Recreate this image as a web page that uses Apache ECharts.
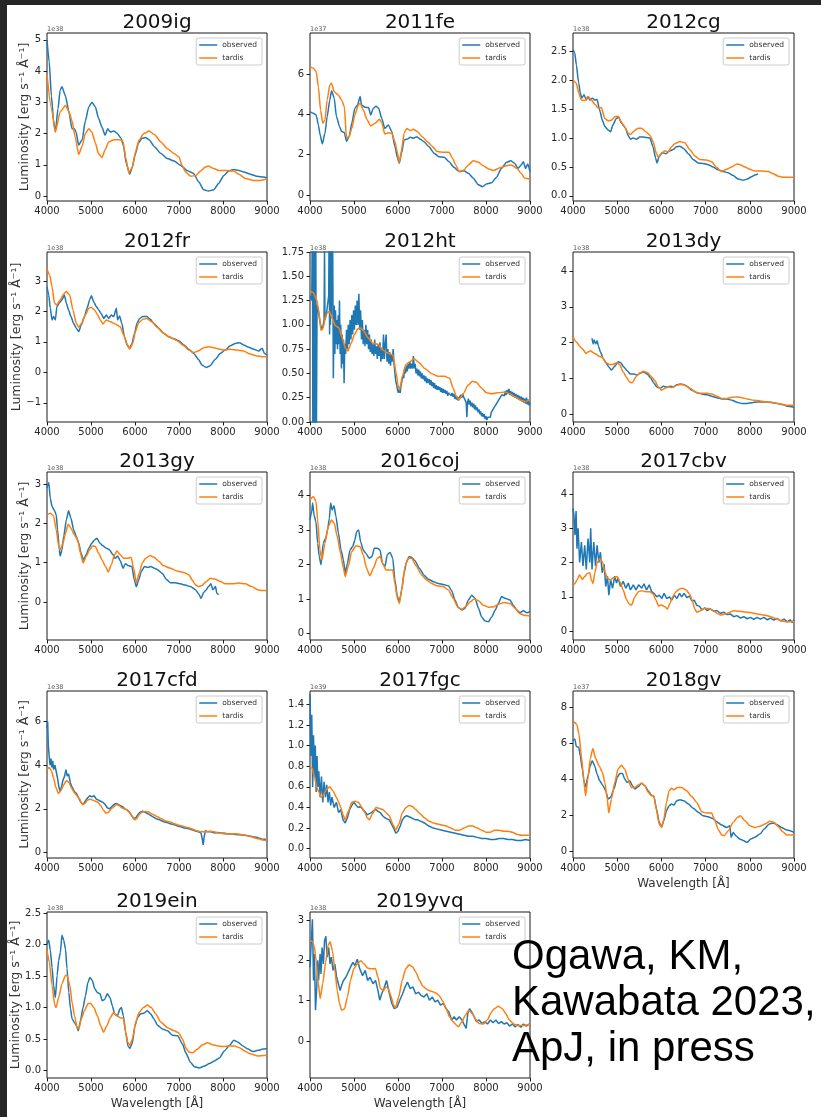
<!DOCTYPE html>
<html>
<head>
<meta charset="utf-8">
<title>Type Ia supernova spectra: observed vs TARDIS</title>
<style>
  html, body { margin: 0; padding: 0; background: #fff; }
  #page { position: relative; width: 821px; height: 1117px; background: #fff; overflow: hidden; }
  #chart { position: absolute; left: 0; top: 0; width: 821px; height: 1117px; }
  .edge-top { position: absolute; left: 0; top: 0; width: 821px; height: 5px; background: #262626; }
  .edge-left { position: absolute; left: 0; top: 0; width: 7px; height: 1117px; background: #262626; }
</style>
<script src="https://cdn.jsdelivr.net/npm/echarts@6/dist/echarts.min.js"></script>
</head>
<body>
<div id="page">
  <div id="chart"></div>
  <div class="edge-top"></div>
  <div class="edge-left"></div>
</div>
<script>
// ---- spectra: [wavelength (Angstrom), luminosity in units of the panel's scale] ----

const obs2009ig = [[4000,5.0],[4050,4.3],[4100,3.2],[4150,2.4],[4190,2.05],[4250,2.8],[4300,3.4],[4340,3.5],[4420,3.2],[4490,2.75],[4570,2.15],[4620,2.15],[4660,2.05],[4720,1.63],[4800,1.8],[4870,2.4],[4950,2.85],[5020,3.0],[5100,2.85],[5170,2.5],[5250,2.2],[5320,1.95],[5380,2.15],[5440,2.05],[5520,2.08],[5600,2.0],[5680,1.85],[5740,1.6],[5800,1.05],[5880,0.7],[5930,0.88],[6010,1.35],[6080,1.7],[6160,1.85],[6240,1.87],[6320,1.8],[6440,1.58],[6590,1.36],[6730,1.2],[6890,1.12],[7040,0.98],[7180,0.82],[7330,0.72],[7450,0.45],[7560,0.2],[7670,0.16],[7790,0.2],[7900,0.4],[8020,0.66],[8130,0.8],[8240,0.85],[8360,0.82],[8470,0.77],[8620,0.7],[8770,0.63],[8920,0.61],[9000,0.58]];
const tardis2009ig = [[4000,3.9],[4100,2.8],[4190,2.05],[4300,2.7],[4420,2.9],[4500,2.7],[4570,2.4],[4640,1.9],[4720,1.33],[4800,1.6],[4870,2.0],[4950,2.15],[5020,2.05],[5100,1.7],[5170,1.36],[5250,1.23],[5320,1.47],[5400,1.73],[5520,1.8],[5640,1.8],[5720,1.78],[5800,1.15],[5860,0.74],[5940,0.93],[6010,1.41],[6090,1.79],[6200,2.0],[6320,2.08],[6440,1.97],[6590,1.73],[6730,1.52],[6890,1.36],[7000,1.25],[7070,0.98],[7150,0.77],[7270,0.63],[7380,0.66],[7490,0.8],[7600,0.93],[7670,0.96],[7790,0.88],[7900,0.82],[8090,0.82],[8240,0.8],[8360,0.7],[8510,0.56],[8700,0.5],[8850,0.5],[9000,0.55]];

const obs2011fe = [[4000,4.13],[4075,4.05],[4140,3.97],[4190,3.47],[4230,2.98],[4280,2.53],[4340,3.06],[4390,3.88],[4450,4.71],[4490,5.17],[4550,4.8],[4600,3.9],[4670,3.4],[4720,3.14],[4780,3.1],[4830,2.65],[4890,2.9],[4950,3.55],[5020,4.3],[5080,4.46],[5140,4.88],[5170,4.46],[5250,4.35],[5330,4.33],[5380,3.97],[5440,4.3],[5500,4.4],[5560,4.3],[5630,3.8],[5700,3.3],[5780,3.47],[5860,3.14],[5930,2.4],[5990,1.82],[6030,1.57],[6080,2.07],[6140,2.73],[6200,2.76],[6280,2.86],[6350,2.81],[6430,2.89],[6510,2.76],[6590,2.64],[6700,2.4],[6820,2.07],[6930,1.9],[7050,1.87],[7160,1.65],[7270,1.37],[7390,1.16],[7500,1.2],[7600,1.07],[7710,0.83],[7830,0.5],[7920,0.41],[8020,0.55],[8130,0.61],[8240,0.88],[8350,1.32],[8470,1.62],[8560,1.7],[8650,1.57],[8730,1.32],[8800,1.49],[8850,1.65],[8900,1.32],[8950,1.54],[9000,1.16]];
const tardis2011fe = [[4000,6.36],[4075,6.28],[4140,6.12],[4190,5.37],[4240,4.21],[4290,3.55],[4340,3.72],[4390,4.71],[4450,5.45],[4490,5.54],[4550,5.12],[4640,4.96],[4720,4.71],[4780,4.38],[4830,2.81],[4890,2.9],[4950,3.3],[5020,3.97],[5100,4.46],[5140,4.55],[5210,4.21],[5300,3.72],[5380,3.42],[5480,3.55],[5580,3.75],[5630,3.59],[5700,3.02],[5780,3.09],[5860,3.06],[5930,2.64],[5990,2.07],[6030,1.6],[6080,2.23],[6140,3.06],[6200,3.3],[6280,3.19],[6350,3.26],[6440,3.14],[6550,2.89],[6670,2.64],[6770,2.43],[6890,2.15],[7050,2.12],[7160,2.12],[7240,1.82],[7310,1.49],[7390,1.16],[7500,1.24],[7600,1.49],[7710,1.69],[7830,1.62],[7940,1.45],[8060,1.29],[8170,1.21],[8330,1.36],[8470,1.45],[8580,1.49],[8700,1.32],[8800,1.07],[8880,0.83],[9000,0.79]];

const obs2012cg = [[4000,2.53],[4040,2.48],[4075,2.27],[4130,1.95],[4165,1.78],[4200,1.69],[4250,1.75],[4300,1.66],[4340,1.72],[4380,1.66],[4440,1.69],[4490,1.66],[4545,1.67],[4600,1.49],[4665,1.31],[4720,1.2],[4795,1.14],[4850,1.11],[4905,1.23],[4980,1.34],[5035,1.36],[5095,1.26],[5190,1.17],[5245,1.05],[5300,0.98],[5360,1.0],[5435,0.98],[5510,1.02],[5585,1.02],[5660,1.01],[5740,1.0],[5810,0.85],[5870,0.65],[5900,0.57],[5950,0.68],[6025,0.75],[6100,0.73],[6190,0.78],[6265,0.8],[6340,0.85],[6420,0.86],[6500,0.82],[6610,0.73],[6720,0.63],[6830,0.57],[6945,0.56],[7060,0.54],[7170,0.5],[7280,0.45],[7400,0.42],[7510,0.4],[7625,0.35],[7740,0.29],[7850,0.27],[7945,0.29],[8040,0.33],[8115,0.36],[8190,0.38]];
const tardis2012cg = [[4000,2.01],[4075,1.95],[4130,1.78],[4190,1.66],[4265,1.65],[4340,1.72],[4415,1.66],[4490,1.59],[4565,1.52],[4640,1.53],[4720,1.34],[4795,1.3],[4870,1.31],[4945,1.37],[5020,1.38],[5095,1.28],[5170,1.19],[5245,1.09],[5300,1.06],[5375,1.12],[5475,1.17],[5550,1.17],[5650,1.11],[5740,1.05],[5810,0.94],[5890,0.73],[5925,0.67],[6000,0.73],[6080,0.78],[6150,0.76],[6230,0.85],[6300,0.9],[6420,0.94],[6530,0.92],[6640,0.8],[6760,0.69],[6870,0.63],[7020,0.62],[7135,0.59],[7250,0.49],[7360,0.42],[7475,0.46],[7590,0.5],[7700,0.55],[7780,0.54],[7890,0.5],[8000,0.46],[8115,0.43],[8270,0.43],[8420,0.42],[8530,0.38],[8645,0.34],[8760,0.32],[8870,0.32],[9000,0.32]];

const obs2012fr = [[4000,2.81],[4040,2.54],[4075,2.1],[4115,1.72],[4150,1.83],[4190,1.72],[4225,2.16],[4290,2.29],[4340,2.38],[4395,2.54],[4440,2.27],[4490,2.05],[4545,1.83],[4605,1.61],[4665,1.45],[4720,1.34],[4780,1.56],[4850,1.83],[4910,2.1],[4970,2.38],[5010,2.51],[5060,2.32],[5120,2.16],[5175,2.05],[5235,1.92],[5290,1.77],[5350,1.88],[5400,1.77],[5460,1.88],[5515,1.83],[5575,2.1],[5605,1.72],[5650,1.85],[5700,1.61],[5760,1.17],[5820,0.9],[5880,0.79],[5930,0.95],[5990,1.28],[6045,1.61],[6105,1.77],[6180,1.83],[6270,1.83],[6350,1.74],[6425,1.61],[6540,1.45],[6650,1.28],[6765,1.17],[6880,1.1],[6990,1.04],[7110,0.9],[7220,0.76],[7335,0.62],[7450,0.41],[7520,0.24],[7620,0.16],[7710,0.22],[7825,0.43],[7940,0.62],[8050,0.73],[8165,0.87],[8280,0.95],[8380,0.97],[8470,0.9],[8585,0.82],[8700,0.76],[8810,0.7],[8890,0.79],[8940,0.62],[9000,0.57]];
const tardis2012fr = [[4000,3.38],[4060,3.2],[4115,2.81],[4170,2.27],[4225,2.21],[4300,2.38],[4380,2.57],[4440,2.65],[4515,2.54],[4590,2.05],[4665,1.61],[4720,1.48],[4790,1.61],[4870,1.88],[4950,2.1],[5000,2.14],[5080,2.05],[5155,1.88],[5210,1.72],[5270,1.59],[5350,1.72],[5440,1.66],[5550,1.59],[5665,1.5],[5740,1.23],[5820,0.93],[5880,0.76],[5950,0.95],[6010,1.34],[6085,1.63],[6180,1.74],[6270,1.77],[6385,1.66],[6500,1.48],[6650,1.28],[6800,1.15],[6955,1.04],[7110,0.87],[7220,0.73],[7335,0.65],[7450,0.71],[7560,0.81],[7670,0.84],[7790,0.81],[7900,0.77],[8015,0.73],[8165,0.76],[8320,0.73],[8470,0.7],[8620,0.6],[8770,0.54],[8890,0.51],[9000,0.51]];

const obs2012ht = [[4000,1.30],[4020,1.32],[4040,1.25],[4055,2.2],[4065,-0.2],[4080,2.2],[4090,-0.2],[4105,2.2],[4115,-0.2],[4130,2.2],[4145,-0.2],[4160,1.2],[4190,1.15],[4220,1.05],[4250,0.98],[4280,0.95],[4300,1.0],[4320,1.05],[4330,1.8],[4340,1.05],[4370,1.1],[4400,1.12],[4425,1.3],[4435,2.0],[4445,0.9],[4455,2.0],[4465,1.0],[4475,2.0],[4485,1.1],[4495,2.0],[4505,1.2],[4515,1.9],[4530,0.45],[4550,1.2],[4565,0.7],[4580,1.15],[4595,0.8],[4610,1.05],[4625,0.75],[4640,1.1],[4655,0.8],[4670,1.25],[4685,0.7],[4700,1.0],[4715,0.55],[4730,0.9],[4745,0.6],[4760,0.85],[4775,0.4],[4790,0.8],[4810,0.7],[4830,0.95],[4850,0.75],[4870,1.0],[4890,0.8],[4910,1.05],[4930,0.85],[4950,1.1],[4970,0.9],[4990,1.15],[5010,0.95],[5030,1.2],[5050,1.0],[5070,1.25],[5090,1.0],[5110,1.32],[5130,0.95],[5150,1.15],[5170,0.85],[5190,1.05],[5210,0.8],[5230,0.95],[5250,0.78],[5270,1.0],[5290,0.8],[5310,0.95],[5330,0.75],[5350,0.9],[5370,0.72],[5390,0.85],[5410,0.7],[5430,0.8],[5450,0.68],[5470,0.85],[5490,0.7],[5510,0.78],[5530,0.65],[5550,0.8],[5570,0.68],[5590,0.82],[5610,0.62],[5630,0.75],[5650,0.65],[5670,0.9],[5690,0.65],[5710,0.8],[5730,0.9],[5750,0.62],[5770,0.75],[5790,0.6],[5810,0.72],[5830,0.58],[5850,0.7],[5870,0.62],[5890,0.75],[5910,0.6],[5930,0.5],[5950,0.42],[5970,0.38],[5990,0.33],[6010,0.3],[6030,0.34],[6050,0.3],[6070,0.38],[6090,0.42],[6110,0.48],[6130,0.45],[6150,0.55],[6170,0.5],[6190,0.58],[6210,0.52],[6230,0.6],[6250,0.55],[6270,0.62],[6290,0.55],[6310,0.6],[6330,0.55],[6350,0.68],[6370,0.55],[6390,0.6],[6410,0.5],[6430,0.55],[6450,0.48],[6470,0.54],[6490,0.47],[6510,0.52],[6530,0.45],[6550,0.5],[6570,0.44],[6590,0.48],[6610,0.42],[6630,0.47],[6650,0.4],[6670,0.45],[6690,0.4],[6710,0.44],[6730,0.38],[6750,0.43],[6770,0.37],[6790,0.41],[6810,0.35],[6830,0.4],[6850,0.34],[6870,0.38],[6890,0.33],[6910,0.37],[6930,0.33],[6950,0.36],[6970,0.31],[6990,0.35],[7010,0.3],[7030,0.34],[7050,0.3],[7070,0.33],[7090,0.29],[7110,0.32],[7130,0.27],[7150,0.3],[7170,0.28],[7190,0.31],[7210,0.27],[7230,0.3],[7250,0.26],[7270,0.29],[7290,0.24],[7310,0.27],[7330,0.23],[7350,0.26],[7370,0.22],[7390,0.25],[7410,0.24],[7430,0.28],[7450,0.25],[7470,0.29],[7490,0.26],[7510,0.28],[7530,0.25],[7550,0.2],[7565,0.05],[7580,0.2],[7600,0.24],[7620,0.18],[7640,0.22],[7660,0.16],[7680,0.2],[7700,0.15],[7720,0.19],[7740,0.13],[7760,0.17],[7780,0.12],[7800,0.15],[7820,0.1],[7840,0.13],[7860,0.08],[7880,0.11],[7900,0.06],[7920,0.09],[7940,0.05],[7960,0.08],[7980,0.03],[8000,0.06],[8020,0.02],[8040,0.05],[8060,0.03],[8080,0.07],[8100,0.05],[8120,0.1],[8140,0.08],[8160,0.13],[8180,0.11],[8200,0.16],[8220,0.14],[8240,0.19],[8260,0.17],[8280,0.22],[8300,0.2],[8320,0.25],[8340,0.23],[8360,0.28],[8380,0.26],[8400,0.3],[8420,0.27],[8440,0.32],[8460,0.28],[8480,0.33],[8500,0.29],[8520,0.34],[8540,0.28],[8560,0.32],[8580,0.27],[8600,0.31],[8620,0.26],[8640,0.3],[8660,0.25],[8680,0.29],[8700,0.24],[8720,0.28],[8740,0.23],[8760,0.27],[8780,0.22],[8800,0.26],[8820,0.21],[8840,0.25],[8860,0.2],[8880,0.24],[8900,0.19],[8920,0.25],[8940,0.18],[8960,0.23],[8980,0.17],[9000,0.2]];
const tardis2012ht = [[4000,1.35],[4075,1.33],[4150,1.26],[4200,1.14],[4250,0.94],[4300,0.97],[4365,1.11],[4440,1.14],[4500,1.07],[4580,0.99],[4655,0.97],[4730,0.87],[4805,0.76],[4860,0.73],[4935,0.81],[5010,0.9],[5085,0.96],[5140,0.97],[5215,0.94],[5315,0.87],[5430,0.81],[5545,0.8],[5660,0.74],[5770,0.71],[5885,0.69],[5960,0.5],[6000,0.38],[6035,0.33],[6100,0.47],[6175,0.59],[6265,0.62],[6365,0.65],[6480,0.61],[6610,0.55],[6760,0.5],[6910,0.47],[7060,0.47],[7175,0.45],[7250,0.35],[7330,0.26],[7390,0.23],[7480,0.29],[7595,0.38],[7690,0.42],[7780,0.41],[7900,0.35],[8010,0.3],[8125,0.29],[8275,0.3],[8430,0.31],[8545,0.29],[8660,0.26],[8770,0.23],[8885,0.21],[9000,0.23]];

const obs2013dy = [[4430,2.12],[4455,1.96],[4475,2.07],[4515,1.96],[4545,2.05],[4575,1.9],[4620,1.74],[4680,1.56],[4740,1.44],[4810,1.32],[4870,1.23],[4945,1.34],[5020,1.46],[5075,1.44],[5150,1.32],[5225,1.21],[5300,1.12],[5380,1.12],[5455,1.09],[5515,1.14],[5590,1.18],[5680,1.12],[5760,1.0],[5835,0.86],[5895,0.76],[5970,0.72],[6045,0.78],[6120,0.75],[6200,0.78],[6270,0.76],[6350,0.82],[6425,0.84],[6500,0.83],[6575,0.78],[6690,0.67],[6800,0.6],[6915,0.56],[7030,0.54],[7140,0.5],[7255,0.46],[7370,0.42],[7485,0.42],[7600,0.39],[7710,0.33],[7825,0.3],[7940,0.3],[8055,0.32],[8165,0.34],[8280,0.34],[8395,0.34],[8510,0.32],[8620,0.3],[8735,0.27],[8850,0.22],[9000,0.19]];
const tardis2013dy = [[4000,2.16],[4075,2.02],[4150,1.9],[4225,1.81],[4290,1.7],[4350,1.74],[4395,1.77],[4455,1.72],[4515,1.68],[4590,1.62],[4665,1.59],[4740,1.44],[4815,1.39],[4905,1.39],[5000,1.44],[5060,1.37],[5135,1.18],[5210,1.03],[5285,0.89],[5345,0.88],[5420,1.04],[5500,1.14],[5590,1.2],[5680,1.16],[5780,1.04],[5855,0.93],[5930,0.76],[6005,0.67],[6080,0.72],[6160,0.76],[6235,0.74],[6310,0.79],[6425,0.83],[6540,0.81],[6650,0.72],[6765,0.62],[6880,0.58],[7030,0.58],[7140,0.56],[7255,0.5],[7370,0.44],[7485,0.44],[7600,0.47],[7710,0.48],[7825,0.46],[7940,0.42],[8090,0.39],[8240,0.37],[8395,0.34],[8545,0.32],[8700,0.28],[8850,0.25],[9000,0.25]];

const obs2013gy = [[4000,2.9],[4040,3.04],[4075,2.64],[4115,2.43],[4165,2.34],[4210,2.22],[4240,1.84],[4280,1.33],[4300,1.17],[4340,1.33],[4380,1.67],[4440,2.09],[4490,2.32],[4545,2.13],[4605,1.84],[4665,1.67],[4720,1.5],[4775,1.24],[4830,1.07],[4890,1.2],[4950,1.37],[5020,1.5],[5080,1.58],[5135,1.62],[5200,1.5],[5270,1.43],[5350,1.37],[5420,1.33],[5500,1.2],[5550,1.11],[5605,1.17],[5665,1.05],[5730,0.86],[5780,0.97],[5860,0.92],[5930,0.9],[5985,0.56],[6030,0.39],[6085,0.56],[6140,0.77],[6215,0.9],[6290,0.88],[6365,0.9],[6440,0.86],[6515,0.82],[6615,0.73],[6710,0.58],[6805,0.49],[6915,0.49],[7030,0.46],[7140,0.43],[7260,0.39],[7375,0.31],[7450,0.2],[7500,0.09],[7560,0.24],[7620,0.31],[7670,0.39],[7725,0.46],[7770,0.31],[7830,0.39],[7860,0.22],[7900,0.18]];
const tardis2013gy = [[4000,2.22],[4075,2.26],[4150,2.19],[4210,1.84],[4265,1.43],[4300,1.33],[4365,1.5],[4420,1.75],[4480,1.98],[4545,1.88],[4620,1.71],[4700,1.58],[4760,1.24],[4820,0.99],[4890,1.16],[4970,1.33],[5045,1.43],[5100,1.41],[5175,1.24],[5250,1.07],[5330,0.9],[5390,0.76],[5460,0.94],[5535,1.2],[5590,1.3],[5665,1.2],[5740,1.11],[5835,1.11],[5910,1.14],[5970,0.86],[6030,0.48],[6095,0.73],[6165,0.99],[6240,1.11],[6340,1.18],[6430,1.14],[6545,1.03],[6650,0.92],[6805,0.86],[6955,0.79],[7110,0.75],[7225,0.69],[7300,0.56],[7375,0.43],[7450,0.39],[7520,0.42],[7620,0.52],[7710,0.6],[7825,0.58],[7940,0.52],[8050,0.46],[8205,0.46],[8355,0.48],[8505,0.46],[8655,0.39],[8785,0.31],[8890,0.29],[9000,0.29]];

const obs2016coj = [[4000,3.29],[4040,3.54],[4060,3.78],[4090,3.44],[4135,3.24],[4175,2.61],[4210,2.23],[4250,1.99],[4300,2.61],[4355,2.76],[4400,3.0],[4440,3.34],[4470,3.78],[4505,3.58],[4545,3.7],[4590,3.39],[4645,2.91],[4705,2.42],[4760,2.13],[4800,1.74],[4850,2.03],[4910,2.42],[4970,2.52],[5020,2.71],[5060,2.95],[5105,3.0],[5150,2.66],[5210,2.42],[5270,2.32],[5345,2.18],[5410,2.23],[5460,2.47],[5530,2.47],[5590,2.42],[5650,2.03],[5705,1.94],[5755,2.28],[5820,2.35],[5880,2.18],[5930,1.55],[5985,1.08],[6030,0.92],[6085,1.26],[6135,1.74],[6195,2.08],[6255,2.23],[6310,2.2],[6385,2.11],[6485,1.89],[6590,1.69],[6690,1.57],[6805,1.5],[6915,1.45],[7030,1.42],[7145,1.38],[7220,1.24],[7295,0.97],[7370,0.75],[7450,0.68],[7525,0.73],[7600,0.97],[7675,1.11],[7750,1.02],[7830,0.73],[7900,0.48],[7980,0.36],[8055,0.34],[8130,0.48],[8210,0.68],[8280,0.87],[8355,1.07],[8430,1.02],[8545,0.97],[8620,0.82],[8700,0.68],[8770,0.6],[8850,0.66],[8925,0.6],[9000,0.63]];
const tardis2016coj = [[4000,3.87],[4075,3.97],[4135,3.83],[4175,3.29],[4225,2.42],[4270,2.13],[4340,2.61],[4415,3.1],[4490,3.29],[4550,3.2],[4620,2.81],[4695,2.32],[4760,1.89],[4800,1.65],[4870,1.94],[4945,2.37],[5045,2.54],[5135,2.52],[5210,2.28],[5285,1.89],[5360,1.67],[5440,1.89],[5530,2.18],[5590,2.23],[5665,1.99],[5725,1.84],[5800,1.84],[5880,1.84],[5930,1.45],[5985,1.02],[6030,0.87],[6090,1.31],[6160,1.94],[6235,2.18],[6310,2.18],[6410,1.96],[6540,1.69],[6650,1.55],[6765,1.45],[6880,1.38],[7030,1.36],[7145,1.26],[7255,1.02],[7355,0.77],[7450,0.7],[7545,0.79],[7640,0.92],[7730,1.0],[7830,0.95],[7940,0.82],[8055,0.76],[8170,0.77],[8280,0.84],[8410,0.9],[8545,0.87],[8660,0.73],[8760,0.58],[8865,0.53],[9000,0.51]];

const obs2017cbv = [[4000,3.58],[4020,3.4],[4045,2.8],[4070,3.5],[4090,2.4],[4115,3.0],[4150,2.0],[4190,2.6],[4225,1.9],[4265,2.5],[4300,1.8],[4340,2.7],[4380,2.0],[4400,3.0],[4430,1.8],[4470,2.6],[4510,1.9],[4545,2.5],[4585,2.0],[4620,2.3],[4660,1.7],[4705,1.95],[4740,1.3],[4780,1.6],[4810,1.05],[4850,1.5],[4895,1.25],[4945,1.6],[4985,1.4],[5020,1.55],[5075,1.3],[5135,1.45],[5195,1.25],[5250,1.4],[5300,1.2],[5365,1.35],[5425,1.2],[5485,1.35],[5555,1.25],[5605,1.38],[5665,1.2],[5725,1.35],[5780,1.15],[5835,1.1],[5895,1.0],[5955,1.05],[6010,0.95],[6060,1.1],[6120,0.95],[6180,1.0],[6235,0.9],[6290,1.05],[6350,0.95],[6410,1.1],[6460,1.0],[6515,1.1],[6575,0.98],[6635,1.02],[6690,0.88],[6745,0.9],[6800,0.75],[6865,0.72],[6915,0.62],[6980,0.68],[7030,0.6],[7105,0.65],[7180,0.58],[7255,0.6],[7335,0.52],[7410,0.55],[7485,0.48],[7560,0.5],[7635,0.42],[7710,0.45],[7790,0.38],[7865,0.42],[7940,0.36],[8015,0.4],[8090,0.34],[8165,0.4],[8240,0.35],[8320,0.4],[8395,0.33],[8470,0.38],[8545,0.32],[8620,0.37],[8700,0.3],[8775,0.35],[8850,0.27],[8910,0.33],[8960,0.25],[9000,0.33]];
const tardis2017cbv = [[4000,1.39],[4040,1.37],[4090,1.49],[4150,1.64],[4210,1.51],[4265,1.59],[4325,1.68],[4380,1.7],[4415,1.49],[4455,1.39],[4490,1.68],[4545,1.98],[4605,2.12],[4665,2.02],[4720,1.73],[4780,1.54],[4850,1.49],[4925,1.56],[5000,1.59],[5060,1.44],[5135,1.2],[5210,0.92],[5270,0.79],[5325,0.76],[5400,1.0],[5480,1.15],[5555,1.18],[5650,1.15],[5740,1.15],[5815,1.08],[5875,0.91],[5935,0.73],[6000,0.76],[6080,0.71],[6135,0.64],[6195,0.81],[6255,1.0],[6330,1.15],[6410,1.23],[6485,1.25],[6560,1.2],[6635,1.08],[6695,0.91],[6750,0.66],[6800,0.55],[6880,0.59],[6970,0.66],[7070,0.66],[7165,0.61],[7255,0.52],[7345,0.47],[7445,0.5],[7545,0.55],[7635,0.59],[7750,0.58],[7880,0.56],[8015,0.54],[8165,0.5],[8320,0.47],[8470,0.42],[8620,0.35],[8735,0.29],[8850,0.27],[9000,0.27]];

const obs2017cfd = [[4000,5.7],[4015,6.0],[4030,4.9],[4050,4.4],[4070,4.0],[4090,4.3],[4110,3.9],[4130,4.2],[4150,3.8],[4180,4.0],[4210,3.7],[4240,3.4],[4270,3.0],[4300,2.8],[4330,3.0],[4360,3.3],[4400,3.5],[4430,3.8],[4460,3.5],[4490,3.6],[4530,3.2],[4570,3.0],[4620,2.8],[4670,2.7],[4720,2.5],[4770,2.3],[4820,2.2],[4870,2.35],[4920,2.5],[4970,2.6],[5020,2.55],[5070,2.6],[5120,2.45],[5170,2.4],[5220,2.35],[5270,2.3],[5320,2.2],[5370,2.05],[5420,2.0],[5470,2.1],[5520,2.2],[5570,2.25],[5620,2.2],[5670,2.15],[5720,2.1],[5770,2.0],[5820,1.95],[5870,1.85],[5920,1.7],[5970,1.55],[6020,1.6],[6070,1.75],[6120,1.85],[6170,1.9],[6220,1.85],[6270,1.8],[6320,1.75],[6400,1.65],[6480,1.55],[6560,1.5],[6640,1.42],[6720,1.38],[6800,1.32],[6880,1.28],[6960,1.22],[7040,1.18],[7120,1.12],[7200,1.1],[7280,1.05],[7360,1.0],[7440,0.95],[7500,0.9],[7530,0.6],[7550,0.35],[7570,0.7],[7600,1.0],[7650,0.95],[7720,0.95],[7800,0.9],[7880,0.92],[7960,0.9],[8040,0.88],[8120,0.85],[8200,0.86],[8280,0.83],[8360,0.82],[8440,0.8],[8520,0.78],[8600,0.76],[8680,0.72],[8760,0.7],[8840,0.65],[8900,0.6],[8950,0.62],[9000,0.52]];
const tardis2017cfd = [[4000,3.8],[4050,3.9],[4100,3.75],[4150,3.4],[4200,3.0],[4260,2.7],[4320,2.85],[4380,3.1],[4440,3.3],[4500,3.2],[4560,2.95],[4620,2.75],[4680,2.6],[4740,2.45],[4800,2.2],[4860,2.25],[4920,2.4],[4980,2.45],[5040,2.4],[5100,2.35],[5160,2.3],[5220,2.15],[5280,1.95],[5340,1.8],[5400,1.85],[5460,2.0],[5520,2.1],[5580,2.2],[5640,2.15],[5700,2.05],[5760,2.0],[5820,1.95],[5880,1.85],[5940,1.65],[5990,1.5],[6040,1.55],[6100,1.75],[6160,1.85],[6240,1.88],[6320,1.85],[6400,1.75],[6500,1.65],[6600,1.55],[6700,1.45],[6800,1.4],[6900,1.32],[7000,1.25],[7100,1.2],[7200,1.15],[7300,1.08],[7400,1.0],[7500,0.95],[7600,0.95],[7700,0.97],[7800,0.95],[7900,0.9],[8000,0.86],[8100,0.85],[8200,0.86],[8300,0.86],[8400,0.83],[8500,0.8],[8600,0.75],[8700,0.68],[8800,0.63],[8900,0.58],[9000,0.55]];

const obs2017fgc = [[4000,1.5],[4020,0.9],[4040,1.3],[4060,0.6],[4080,1.1],[4100,0.7],[4120,1.0],[4140,0.55],[4160,0.9],[4180,0.6],[4200,0.75],[4230,0.5],[4260,0.7],[4290,0.45],[4320,0.65],[4350,0.5],[4380,0.62],[4410,0.45],[4440,0.55],[4470,0.42],[4500,0.5],[4550,0.4],[4600,0.45],[4650,0.35],[4700,0.38],[4750,0.28],[4800,0.25],[4850,0.3],[4900,0.38],[4950,0.42],[5000,0.45],[5050,0.42],[5100,0.4],[5150,0.41],[5200,0.38],[5250,0.36],[5300,0.33],[5350,0.34],[5400,0.35],[5450,0.37],[5500,0.38],[5550,0.36],[5600,0.35],[5650,0.32],[5700,0.3],[5750,0.29],[5800,0.28],[5850,0.24],[5900,0.2],[5950,0.15],[6000,0.17],[6050,0.22],[6100,0.28],[6150,0.31],[6200,0.32],[6250,0.31],[6300,0.3],[6350,0.29],[6400,0.28],[6450,0.28],[6500,0.27],[6600,0.25],[6700,0.22],[6800,0.2],[6900,0.19],[7000,0.18],[7100,0.17],[7200,0.16],[7300,0.15],[7400,0.14],[7500,0.13],[7600,0.12],[7700,0.12],[7800,0.11],[7900,0.1],[8000,0.1],[8100,0.09],[8200,0.09],[8300,0.1],[8400,0.1],[8500,0.09],[8600,0.09],[8700,0.08],[8800,0.08],[8900,0.09],[9000,0.08]];
const tardis2017fgc = [[4000,0.8],[4050,0.78],[4100,0.7],[4150,0.6],[4200,0.55],[4250,0.5],[4300,0.52],[4380,0.58],[4450,0.6],[4520,0.56],[4600,0.5],[4650,0.45],[4700,0.4],[4750,0.33],[4800,0.28],[4870,0.36],[4950,0.45],[5030,0.46],[5100,0.45],[5180,0.4],[5250,0.35],[5300,0.3],[5350,0.28],[5420,0.34],[5500,0.4],[5580,0.39],[5650,0.38],[5730,0.35],[5800,0.32],[5880,0.24],[5950,0.18],[6020,0.24],[6100,0.35],[6180,0.4],[6250,0.42],[6330,0.41],[6400,0.38],[6500,0.34],[6600,0.3],[6700,0.27],[6800,0.25],[6900,0.24],[7000,0.23],[7100,0.22],[7200,0.2],[7300,0.18],[7400,0.18],[7500,0.2],[7600,0.22],[7700,0.22],[7800,0.2],[7900,0.18],[8000,0.16],[8100,0.16],[8200,0.18],[8300,0.18],[8400,0.17],[8500,0.17],[8600,0.16],[8700,0.14],[8800,0.13],[8900,0.13],[9000,0.13]];

const obs2018gv = [[4000,6.17],[4040,6.26],[4075,5.85],[4130,5.8],[4165,5.33],[4210,4.59],[4255,3.85],[4285,3.61],[4340,4.22],[4390,4.78],[4435,5.06],[4490,4.78],[4545,4.31],[4605,3.94],[4680,3.67],[4740,3.39],[4795,2.93],[4850,3.02],[4925,3.48],[5000,4.13],[5060,4.35],[5120,4.35],[5170,4.04],[5225,3.85],[5285,3.94],[5345,3.67],[5400,3.48],[5475,3.61],[5550,3.8],[5625,3.67],[5700,3.39],[5775,3.15],[5830,3.07],[5890,2.37],[5950,1.63],[6005,1.39],[6055,1.72],[6115,2.28],[6175,2.56],[6230,2.65],[6285,2.59],[6345,2.83],[6420,2.89],[6510,2.83],[6610,2.65],[6720,2.41],[6835,2.19],[6945,2.0],[7060,1.94],[7160,1.85],[7250,1.67],[7365,1.48],[7475,1.35],[7550,1.44],[7575,0.8],[7625,1.07],[7685,0.89],[7775,0.7],[7865,0.61],[7940,0.52],[8020,0.7],[8115,0.8],[8230,0.98],[8325,1.26],[8440,1.54],[8530,1.59],[8620,1.5],[8720,1.35],[8820,1.22],[8910,1.17],[9000,1.07]];
const tardis2018gv = [[4000,7.09],[4040,7.19],[4090,7.04],[4135,6.54],[4190,5.33],[4240,4.04],[4285,3.11],[4340,4.13],[4390,5.15],[4450,5.74],[4510,5.19],[4590,4.78],[4665,4.41],[4720,3.85],[4775,2.93],[4810,2.15],[4870,2.93],[4945,3.85],[5020,4.59],[5095,4.81],[5170,4.59],[5245,4.04],[5320,3.57],[5400,3.57],[5475,3.7],[5550,3.81],[5625,3.67],[5700,3.3],[5775,3.11],[5830,3.11],[5890,2.28],[5950,1.54],[6005,1.35],[6055,1.81],[6115,2.74],[6175,3.39],[6230,3.52],[6285,3.44],[6360,3.57],[6460,3.57],[6570,3.39],[6685,3.07],[6800,2.74],[6910,2.22],[7020,2.15],[7135,2.15],[7210,1.72],[7290,1.22],[7365,0.93],[7420,0.89],[7515,1.17],[7625,1.63],[7720,1.91],[7790,2.0],[7890,1.72],[8000,1.44],[8115,1.35],[8230,1.41],[8345,1.54],[8455,1.69],[8545,1.63],[8645,1.39],[8745,1.11],[8835,0.93],[8925,0.93],[9000,0.94]];

const obs2019ein = [[4000,2.01],[4040,2.07],[4075,1.91],[4115,1.64],[4150,1.35],[4190,1.16],[4230,1.51],[4265,1.75],[4305,1.88],[4340,2.15],[4380,2.07],[4420,1.93],[4455,1.62],[4495,1.24],[4535,0.98],[4570,0.82],[4625,0.76],[4670,0.71],[4710,0.63],[4760,0.79],[4820,1.0],[4875,1.19],[4930,1.4],[4975,1.48],[5030,1.43],[5085,1.3],[5145,1.24],[5205,1.22],[5255,1.11],[5310,1.13],[5370,1.22],[5430,1.16],[5485,1.03],[5535,0.9],[5600,0.87],[5660,0.98],[5690,1.0],[5735,0.87],[5790,0.6],[5840,0.39],[5885,0.35],[5940,0.44],[6000,0.71],[6055,0.84],[6125,0.9],[6200,0.91],[6280,0.95],[6355,0.9],[6430,0.82],[6510,0.72],[6620,0.66],[6740,0.63],[6850,0.56],[6970,0.55],[7080,0.42],[7155,0.28],[7260,0.13],[7350,0.06],[7460,0.04],[7580,0.07],[7690,0.11],[7805,0.15],[7920,0.2],[8030,0.31],[8150,0.4],[8245,0.48],[8340,0.45],[8450,0.39],[8565,0.34],[8680,0.3],[8795,0.32],[8910,0.34],[9000,0.35]];
const tardis2019ein = [[4000,1.91],[4055,1.72],[4115,1.35],[4170,1.06],[4205,1.0],[4265,1.16],[4340,1.38],[4420,1.51],[4455,1.51],[4520,1.35],[4570,1.08],[4625,0.87],[4685,0.68],[4725,0.66],[4780,0.82],[4850,0.95],[4930,1.06],[4990,1.07],[5065,1.0],[5145,0.87],[5220,0.71],[5285,0.61],[5360,0.71],[5440,0.84],[5510,0.92],[5585,0.87],[5660,0.84],[5735,0.83],[5790,0.6],[5840,0.44],[5885,0.4],[5940,0.5],[6015,0.76],[6090,0.92],[6190,1.0],[6280,1.04],[6370,1.0],[6470,0.9],[6585,0.77],[6740,0.68],[6890,0.63],[6990,0.6],[7080,0.5],[7155,0.36],[7230,0.29],[7310,0.28],[7420,0.34],[7535,0.41],[7650,0.44],[7765,0.41],[7880,0.39],[7990,0.38],[8145,0.39],[8260,0.39],[8375,0.36],[8490,0.31],[8640,0.26],[8795,0.23],[9000,0.24]];

const obs2019yvq = [[4000,1.83],[4030,2.48],[4055,3.02],[4080,1.5],[4100,2.16],[4125,0.76],[4150,1.25],[4175,2.0],[4195,1.5],[4230,2.16],[4250,1.66],[4275,2.32],[4305,1.91],[4330,2.48],[4360,2.6],[4390,2.08],[4425,2.32],[4455,1.91],[4485,2.08],[4525,1.75],[4565,1.91],[4605,1.58],[4645,1.42],[4685,1.25],[4720,1.38],[4760,1.5],[4815,1.58],[4865,1.7],[4920,1.83],[4975,1.95],[5020,1.87],[5075,2.03],[5130,1.79],[5195,1.62],[5255,1.75],[5310,1.5],[5365,1.58],[5430,1.42],[5490,1.5],[5545,1.25],[5585,1.01],[5630,1.17],[5680,1.3],[5740,1.5],[5805,1.17],[5860,0.93],[5915,0.8],[5980,0.84],[6040,1.01],[6105,1.17],[6160,1.34],[6215,1.46],[6275,1.3],[6340,1.34],[6400,1.17],[6465,1.21],[6525,1.13],[6590,1.09],[6655,1.17],[6715,1.01],[6780,1.09],[6840,0.97],[6905,1.01],[6965,0.89],[7030,0.93],[7095,0.8],[7155,0.72],[7220,0.52],[7275,0.6],[7330,0.52],[7390,0.6],[7455,0.52],[7510,0.39],[7550,0.31],[7585,0.68],[7625,0.8],[7675,0.72],[7730,0.6],[7785,0.48],[7845,0.52],[7910,0.43],[7970,0.48],[8035,0.42],[8100,0.52],[8160,0.45],[8225,0.52],[8285,0.43],[8350,0.48],[8410,0.42],[8475,0.45],[8535,0.37],[8600,0.42],[8660,0.35],[8725,0.41],[8790,0.34],[8850,0.42],[8915,0.37],[9000,0.43]];
const tardis2019yvq = [[4000,2.48],[4055,2.47],[4095,2.36],[4140,1.99],[4190,1.42],[4230,1.05],[4290,1.42],[4355,1.95],[4410,2.36],[4455,2.46],[4510,2.24],[4565,1.75],[4620,1.25],[4670,0.93],[4720,0.76],[4785,0.8],[4850,1.09],[4920,1.5],[4995,1.79],[5075,1.91],[5155,1.99],[5230,1.91],[5310,1.81],[5390,1.79],[5490,1.79],[5545,1.58],[5600,1.3],[5665,1.25],[5725,1.34],[5780,1.3],[5835,1.13],[5900,0.89],[5945,0.83],[6015,1.09],[6095,1.5],[6175,1.79],[6255,1.89],[6330,1.84],[6410,1.7],[6490,1.5],[6565,1.36],[6670,1.27],[6760,1.23],[6860,1.19],[6935,1.13],[7015,0.99],[7095,0.8],[7170,0.6],[7250,0.48],[7330,0.39],[7375,0.35],[7455,0.48],[7530,0.64],[7610,0.76],[7690,0.68],[7770,0.53],[7845,0.43],[7940,0.42],[8035,0.53],[8115,0.7],[8190,0.8],[8280,0.86],[8370,0.8],[8450,0.68],[8530,0.52],[8630,0.42],[8725,0.38],[8845,0.38],[9000,0.42]];

// ---- tick labels ----
const wavelengthTicks = ['4000', '5000', '6000', '7000', '8000', '9000'];
const ticks2009ig = ['0', '1', '2', '3', '4', '5'];
const ticks2011fe = ['0', '2', '4', '6'];
const ticks2012cg = ['0.0', '0.5', '1.0', '1.5', '2.0', '2.5'];
const ticks2012fr = ['-1', '0', '1', '2', '3'];
const ticks2012ht = ['0.00', '0.25', '0.50', '0.75', '1.00', '1.25', '1.50', '1.75'];
const ticks2013dy = ['0', '1', '2', '3', '4'];
const ticks2013gy = ['0', '1', '2', '3'];
const ticks2016coj = ['0', '1', '2', '3', '4'];
const ticks2017cbv = ['0', '1', '2', '3', '4'];
const ticks2017cfd = ['0', '2', '4', '6'];
const ticks2017fgc = ['0.0', '0.2', '0.4', '0.6', '0.8', '1.0', '1.2', '1.4'];
const ticks2018gv = ['0', '2', '4', '6', '8'];
const ticks2019ein = ['0.0', '0.5', '1.0', '1.5', '2.0', '2.5'];
const ticks2019yvq = ['0', '1', '2', '3'];

// ---- panel grid: plot-area edges in pixels ----
const columnEdges = [[47, 267], [310, 530], [573, 794]];
const rowEdges = [[33, 201], [252, 422], [472, 640], [691, 858], [912, 1078]];

const panels = [
  { name: '2009ig',  obs: obs2009ig,  model: tardis2009ig,  ticks: ticks2009ig,  scale: '1e38', yMin: -0.16, yMax: 5.22, row: 0, col: 0, yTitleX: 25 },
  { name: '2011fe',  obs: obs2011fe,  model: tardis2011fe,  ticks: ticks2011fe,  scale: '1e37', yMin: -0.3,  yMax: 8.03, row: 0, col: 1 },
  { name: '2012cg',  obs: obs2012cg,  model: tardis2012cg,  ticks: ticks2012cg,  scale: '1e38', yMin: -0.09, yMax: 2.82, row: 0, col: 2 },
  { name: '2012fr',  obs: obs2012fr,  model: tardis2012fr,  ticks: ticks2012fr,  scale: '1e38', yMin: -1.63, yMax: 3.95, row: 1, col: 0, yTitleX: 17 },
  { name: '2012ht',  obs: obs2012ht,  model: tardis2012ht,  ticks: ticks2012ht,  scale: '1e38', yMin: 0,     yMax: 1.75, row: 1, col: 1, noisy: true },
  { name: '2013dy',  obs: obs2013dy,  model: tardis2013dy,  ticks: ticks2013dy,  scale: '1e38', yMin: -0.22, yMax: 4.53, row: 1, col: 2 },
  { name: '2013gy',  obs: obs2013gy,  model: tardis2013gy,  ticks: ticks2013gy,  scale: '1e38', yMin: -0.97, yMax: 3.31, row: 2, col: 0, yTitleX: 25 },
  { name: '2016coj', obs: obs2016coj, model: tardis2016coj, ticks: ticks2016coj, scale: '1e38', yMin: -0.19, yMax: 4.68, row: 2, col: 1 },
  { name: '2017cbv', obs: obs2017cbv, model: tardis2017cbv, ticks: ticks2017cbv, scale: '1e38', yMin: -0.26, yMax: 4.64, row: 2, col: 2, noisy: true },
  { name: '2017cfd', obs: obs2017cfd, model: tardis2017cfd, ticks: ticks2017cfd, scale: '1e38', yMin: -0.25, yMax: 7.4,  row: 3, col: 0, noisy: true, yTitleX: 25 },
  { name: '2017fgc', obs: obs2017fgc, model: tardis2017fgc, ticks: ticks2017fgc, scale: '1e39', yMin: -0.09, yMax: 1.53, row: 3, col: 1, noisy: true },
  { name: '2018gv',  obs: obs2018gv,  model: tardis2018gv,  ticks: ticks2018gv,  scale: '1e37', yMin: -0.35, yMax: 8.93, row: 3, col: 2, xTitle: true },
  { name: '2019ein', obs: obs2019ein, model: tardis2019ein, ticks: ticks2019ein, scale: '1e38', yMin: -0.12, yMax: 2.52, row: 4, col: 0, xTitle: true, yTitleX: 16 },
  { name: '2019yvq', obs: obs2019yvq, model: tardis2019yvq, ticks: ticks2019yvq, scale: '1e38', yMin: -0.92, yMax: 3.2,  row: 4, col: 1, xTitle: true, noisy: true }
];

const BLUE = '#1f77b4';
const ORANGE = '#ff7f0e';
const MPL_FONT = 'DejaVu Sans';
const W = 821;

// tick labels are written with '-' and shown with a typographic minus
function tickFormatter(labels) {
  const values = labels.map(Number);
  return function (v) {
    const k = values.findIndex(t => Math.abs(t - v) < 1e-9);
    return k < 0 ? '' : labels[k].replace('-', '\u2212');
  };
}

const grids = [], xAxes = [], yAxes = [], series = [], legends = [], texts = [];

panels.forEach((p, i) => {
  const [x0, x1] = columnEdges[p.col];
  const [y0, y1] = rowEdges[p.row];
  const cx = (x0 + x1) / 2;

  grids.push({
    left: x0, top: y0, width: x1 - x0, height: y1 - y0,
    show: true, borderColor: '#1a1a1a', borderWidth: 1,
    backgroundColor: 'transparent', containLabel: false, outerBoundsMode: 'none'
  });

  const xVals = wavelengthTicks.map(Number);
  xAxes.push({
    type: 'value', gridIndex: i, min: 4000, max: 9000, position: 'bottom',
    axisLine: { show: false, onZero: false }, splitLine: { show: false },
    axisTick: { show: true, length: 3.5, customValues: xVals, lineStyle: { color: '#1a1a1a', width: 1 } },
    axisLabel: { customValues: xVals, formatter: tickFormatter(wavelengthTicks),
      fontSize: 10, color: '#262626', margin: 5, fontFamily: MPL_FONT }
  });

  const yVals = p.ticks.map(Number);
  yAxes.push({
    type: 'value', gridIndex: i, min: p.yMin, max: p.yMax, position: 'left',
    axisLine: { show: false, onZero: false }, splitLine: { show: false },
    axisTick: { show: true, length: 3.5, customValues: yVals, lineStyle: { color: '#1a1a1a', width: 1 } },
    axisLabel: { customValues: yVals, formatter: tickFormatter(p.ticks),
      fontSize: 10, color: '#262626', margin: 6, fontFamily: MPL_FONT }
  });

  const common = {
    type: 'line', xAxisIndex: i, yAxisIndex: i, symbol: 'none', showSymbol: false,
    clip: true, connectNulls: false, animation: false
  };
  series.push(Object.assign({}, common, {
    name: 'observed', data: p.obs,
    smooth: p.noisy ? false : 0.2, smoothMonotone: 'x',
    lineStyle: { color: BLUE, width: 1.5 }, itemStyle: { color: BLUE }
  }));
  series.push(Object.assign({}, common, {
    name: 'tardis', data: p.model,
    smooth: 0.2, smoothMonotone: 'x',
    lineStyle: { color: ORANGE, width: 1.5 }, itemStyle: { color: ORANGE }
  }));

  legends.push({
    data: ['observed', 'tardis'], orient: 'vertical', selectedMode: false,
    right: W - x1 + 5, top: y0 + 5,
    icon: 'rect', itemWidth: 18, itemHeight: 1.5, itemGap: 5, itemTextGap: 3,
    padding: [3, 5, 3, 3],
    textStyle: { fontSize: 7.5, color: '#333', fontFamily: MPL_FONT },
    borderColor: '#cccccc', borderWidth: 1, borderRadius: 2,
    backgroundColor: 'rgba(255,255,255,0.8)'
  });

  // panel title
  texts.push({ type: 'text', x: cx, y: y0 - 10.5, z: 10,
    style: { text: p.name, fontSize: 20, fontFamily: MPL_FONT, fill: '#111',
      align: 'center', verticalAlign: 'middle', textAlign: 'center', textVerticalAlign: 'middle' } });
  // scale factor above the y axis
  texts.push({ type: 'text', x: x0, y: y0 - 4, z: 10,
    style: { text: p.scale, fontSize: 6.5, fontFamily: MPL_FONT, fill: '#555',
      align: 'left', verticalAlign: 'middle', textAlign: 'left', textVerticalAlign: 'middle' } });
  if (p.col === 0) {
    texts.push({ type: 'text', x: p.yTitleX, y: (y0 + y1) / 2, rotation: Math.PI / 2, z: 10,
      style: { text: 'Luminosity [erg s\u207B\u00B9 \u00C5\u207B\u00B9]', fontSize: 12.5, fontFamily: MPL_FONT, fill: '#333',
        align: 'center', verticalAlign: 'middle', textAlign: 'center', textVerticalAlign: 'middle' } });
  }
  if (p.xTitle) {
    texts.push({ type: 'text', x: cx, y: y1 + 26, z: 10,
      style: { text: 'Wavelength [\u00C5]', fontSize: 12, fontFamily: MPL_FONT, fill: '#333',
        align: 'center', verticalAlign: 'middle', textAlign: 'center', textVerticalAlign: 'middle' } });
  }
});

// citation
texts.push({ type: 'text', x: 512, y: 934, z: 100,
  style: { text: 'Ogawa, KM,\nKawabata 2023,\nApJ, in press', fontSize: 42, lineHeight: 46,
    fontFamily: 'Liberation Sans', fill: '#000',
    align: 'left', verticalAlign: 'top', textAlign: 'left', textVerticalAlign: 'top' } });

const chart = echarts.init(document.getElementById('chart'), null, { renderer: 'canvas', width: 821, height: 1117 });
chart.setOption({
  animation: false,
  backgroundColor: '#fff',
  grid: grids,
  xAxis: xAxes,
  yAxis: yAxes,
  legend: legends,
  series: series,
  graphic: texts
});
</script>
</body>
</html>
